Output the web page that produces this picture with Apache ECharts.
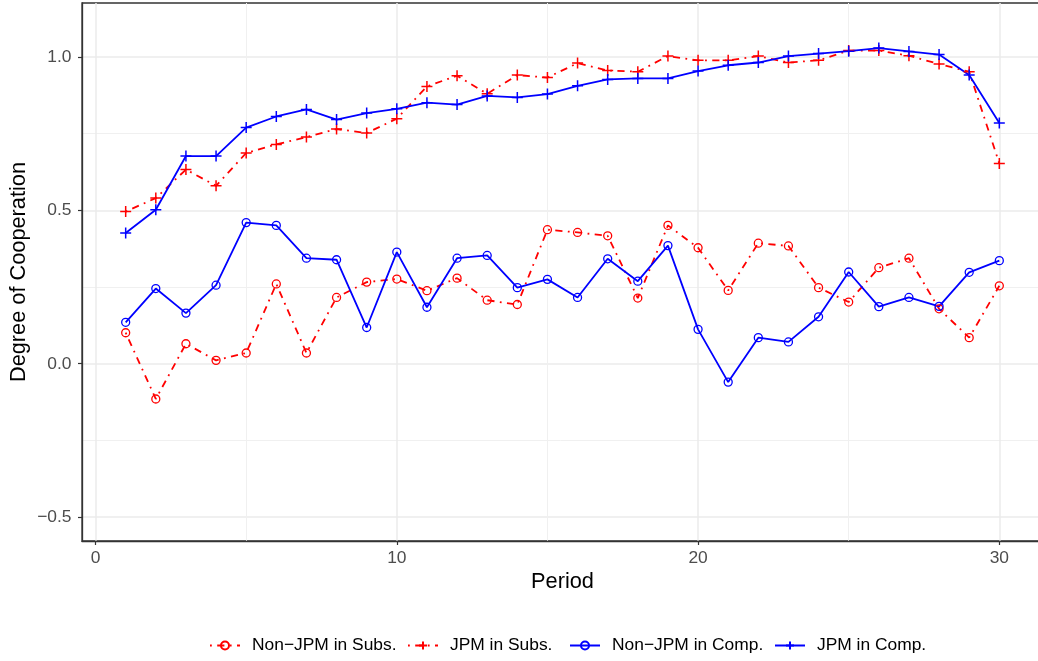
<!DOCTYPE html>
<html><head><meta charset="utf-8">
<script src="https://cdn.jsdelivr.net/npm/echarts@6/dist/echarts.min.js"></script>
<style>html,body{margin:0;padding:0;background:#fff}#c{width:1038px;height:661px}</style>
</head><body><div id="c"></div>
<script>
const periods = [1,2,3,4,5,6,7,8,9,10,11,12,13,14,15,16,17,18,19,20,21,22,23,24,25,26,27,28,29,30];
const nonJpmSubs = [0.101,-0.115,0.065,0.011,0.035,0.260,0.035,0.216,0.266,0.276,0.238,0.279,0.207,0.193,0.437,0.428,0.417,0.214,0.451,0.378,0.239,0.393,0.384,0.248,0.201,0.313,0.344,0.179,0.085,0.254];
const jpmSubs = [0.496,0.540,0.633,0.580,0.687,0.715,0.739,0.765,0.752,0.799,0.904,0.939,0.880,0.941,0.933,0.980,0.956,0.952,1.003,0.989,0.989,1.003,0.982,0.989,1.021,1.021,1.004,0.977,0.952,0.653];
const nonJpmComp = [0.135,0.245,0.165,0.256,0.460,0.451,0.344,0.339,0.118,0.364,0.184,0.344,0.353,0.248,0.275,0.216,0.342,0.269,0.385,0.112,-0.060,0.085,0.071,0.153,0.299,0.186,0.216,0.187,0.298,0.336];
const jpmComp = [0.426,0.502,0.677,0.677,0.770,0.806,0.829,0.796,0.817,0.831,0.851,0.845,0.873,0.868,0.879,0.906,0.927,0.930,0.930,0.954,0.973,0.982,1.003,1.011,1.019,1.029,1.018,1.008,0.941,0.785];
const seriesNames = ['Non\u2212JPM in Subs.', 'JPM in Subs.', 'Non\u2212JPM in Comp.', 'JPM in Comp.'];
const xTicks = [0, 10, 20, 30];
const yTicks = [-0.5, 0, 0.5, 1.0];

const FONT = '"Liberation Sans", Arial, Helvetica, sans-serif';
const RED = '#FF0000', BLUE = '#0000FF';
const DOTDASH = [1.8, 5.4, 7.2, 5.4];
const PLUS = 'path://M0,6H12M6,0V12';
const legendLefts = [204, 402, 564, 769];

function pairs(vals) { return periods.map((p, i) => [p, vals[i]]); }

function mkSeries(name, vals, color, dashed, plus) {
  return {
    name: name, type: 'line', data: pairs(vals),
    showSymbol: true, showAllSymbol: true,
    symbol: plus ? PLUS : 'circle',
    symbolSize: plus ? 11 : 8,
    lineStyle: { color: color, width: 1.8, type: dashed ? DOTDASH : 'solid', cap: 'butt' },
    itemStyle: { color: plus ? color : 'rgba(0,0,0,0)', borderColor: color, borderWidth: plus ? 1.5 : 1.3 },
    emphasis: { disabled: true },
    z: 3
  };
}

function mkLegend(i) {
  return {
    data: [seriesNames[i]], left: legendLefts[i], top: 632, orient: 'horizontal',
    itemWidth: 30, itemHeight: 10, itemGap: 0, selectedMode: false,
    textStyle: { fontSize: 17.4, color: '#000000', fontFamily: FONT, padding: [0, 0, 0, 7] }
  };
}

const chart = echarts.init(document.getElementById('c'), null, { renderer: 'canvas' });
chart.setOption({
  animation: false,
  backgroundColor: '#ffffff',
  textStyle: { fontFamily: FONT },
  grid: { left: 82, top: 3, width: 961, height: 538, show: true, borderColor: '#333333', borderWidth: 1.3, backgroundColor: '#ffffff', containLabel: false, outerBoundsMode: 'none' },
  xAxis: {
    type: 'value', min: -0.45, max: 31.45, splitNumber: 3,
    name: 'Period', nameLocation: 'middle', nameGap: 30, nameMoveOverlap: false,
    nameTextStyle: { fontSize: 21.75, color: '#000000', fontFamily: FONT },
    axisLine: { show: true, onZero: false, lineStyle: { color: '#333333', width: 1.3 } },
    axisTick: { show: true, length: 4, customValues: xTicks, lineStyle: { color: '#333333', width: 1.2 } },
    axisLabel: { customValues: xTicks, margin: 9, fontSize: 17.4, color: '#4D4D4D', fontFamily: FONT },
    splitLine: { show: true, lineStyle: { color: '#EBEBEB', width: 1.5 } },
    minorTick: { show: false, splitNumber: 2 },
    minorSplitLine: { show: true, lineStyle: { color: '#F0F0F0', width: 1 } }
  },
  yAxis: {
    type: 'value', min: -0.578, max: 1.176, splitNumber: 4,
    name: 'Degree of Cooperation', nameLocation: 'middle', nameGap: 52, nameRotate: 90, nameMoveOverlap: false,
    nameTextStyle: { fontSize: 21.75, color: '#000000', fontFamily: FONT },
    axisLine: { show: true, onZero: false, lineStyle: { color: '#333333', width: 1.3 } },
    axisTick: { show: true, length: 4, customValues: yTicks, lineStyle: { color: '#333333', width: 1.2 } },
    axisLabel: { customValues: yTicks, margin: 10.5, fontSize: 17.4, color: '#4D4D4D', fontFamily: FONT,
      formatter: v => Number(v).toFixed(1).replace('-', '\u2212') },
    splitLine: { show: true, lineStyle: { color: '#EBEBEB', width: 1.5 } },
    minorTick: { show: false, splitNumber: 2 },
    minorSplitLine: { show: true, lineStyle: { color: '#F0F0F0', width: 1 } }
  },
  legend: [0, 1, 2, 3].map(mkLegend),
  series: [
    mkSeries(seriesNames[0], nonJpmSubs, RED, true, false),
    mkSeries(seriesNames[1], jpmSubs, RED, true, true),
    mkSeries(seriesNames[2], nonJpmComp, BLUE, false, false),
    mkSeries(seriesNames[3], jpmComp, BLUE, false, true)
  ]
});
</script></body></html>
